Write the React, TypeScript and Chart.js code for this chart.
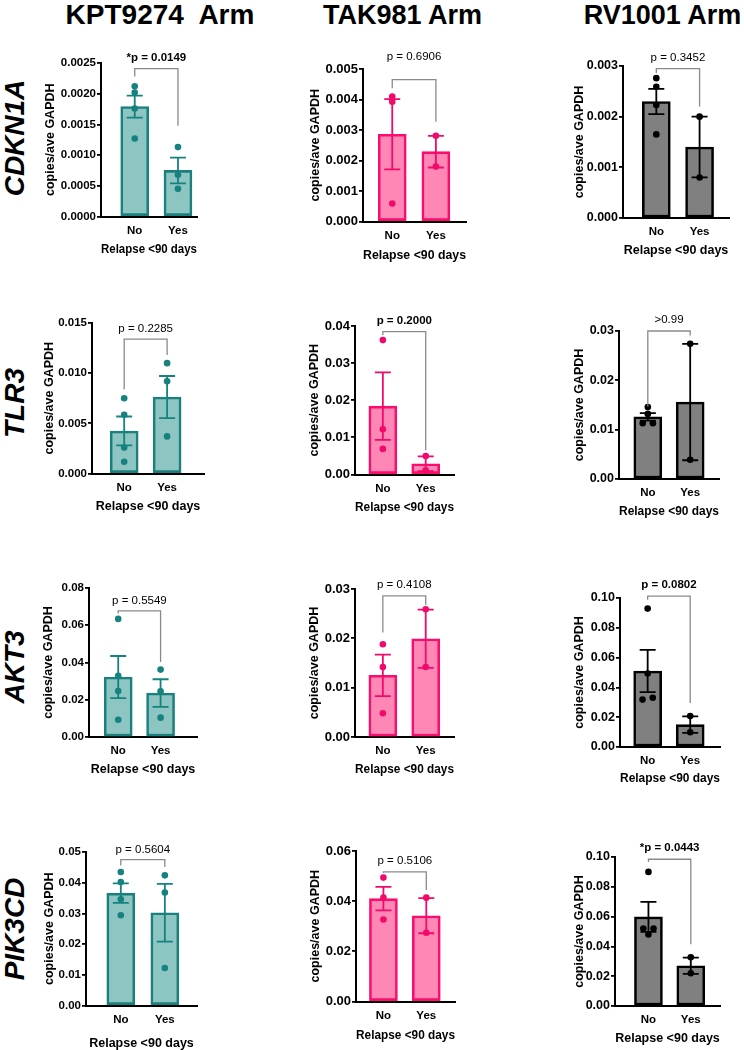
import React, { useEffect, useRef } from 'react';
import { Chart, registerables } from 'chart.js';

Chart.register(...registerables);

const FONT = "'Liberation Sans', Arial, Helvetica, sans-serif";

// ---------- data ----------
const GENES = ['CDKN1A', 'TLR3', 'AKT3', 'PIK3CD'];
const ARMS = ['KPT9274  Arm', 'TAK981 Arm', 'RV1001 Arm'];
const GROUPS = ['No', 'Yes'];
const Y_TITLE = 'copies/ave GAPDH';
const X_TITLE = 'Relapse <90 days';

const Y_MAX = [[0.0025, 0.005, 0.003], [0.015, 0.04, 0.03], [0.08, 0.03, 0.1], [0.05, 0.06, 0.1]];
const Y_STEP = [[0.0005, 0.001, 0.001], [0.005, 0.01, 0.01], [0.02, 0.01, 0.02], [0.01, 0.02, 0.02]];
const Y_DEC = [[4, 3, 3], [3, 2, 2], [2, 2, 2], [2, 2, 2]];

const MEAN_NO = [[0.00179, 0.00286, 0.0023], [0.00424, 0.0184, 0.0126], [0.0322, 0.0125, 0.051], [0.0366, 0.041, 0.0598]];
const MEAN_YES = [[0.00075, 0.00229, 0.0014], [0.00762, 0.0029, 0.0156], [0.0236, 0.0199, 0.015], [0.0302, 0.0342, 0.027]];
const SEM_NO = [[0.00018, 0.00115, 0.00025], [0.00144, 0.0091, 0.00075], [0.0113, 0.0042, 0.0142], [0.0032, 0.0047, 0.0101]];
const SEM_YES = [[0.00021, 0.00052, 0.0006], [0.0021, 0.002, 0.0118], [0.0074, 0.0059, 0.0055], [0.0094, 0.007, 0.0055]];

const PTS_NO = [
  [[0.00212, 0.00202, 0.00176, 0.00127], [0.0041, 0.00393, 0.00059], [0.00276, 0.00259, 0.00223, 0.00165]],
  [[0.0075, 0.00586, 0.00258, 0.00117], [0.0362, 0.0122, 0.0069], [0.0146, 0.0132, 0.0113, 0.0113]],
  [[0.0634, 0.0328, 0.0247, 0.0093], [0.0188, 0.0142, 0.0048], [0.0929, 0.0493, 0.0331, 0.0318]],
  [[0.0435, 0.0402, 0.0346, 0.0294], [0.0494, 0.0414, 0.0327], [0.09, 0.052, 0.052, 0.048]],
];
const JIT_NO = [
  [[0, 0, 0, 0], [0, 0, 0], [0, 0, 0, 0]],
  [[0, 0, 0, 0], [0, 0, 0], [0, 0, -0.12, 0.12]],
  [[0, 0, 0, 0], [0, 0, 0], [0, 0, 0.12, -0.12]],
  [[0, 0, 0, 0], [0, 0, 0], [0, -0.12, 0.12, 0]],
];
const PTS_YES = [
  [[0.00113, 0.00068, 0.00045], [0.00281, 0.0018], [0.002, 0.0008]],
  [[0.011, 0.0092, 0.0037], [0.005, 0.0011], [0.0274, 0.0039]],
  [[0.0362, 0.0245, 0.0104], [0.0259, 0.0142], [0.0208, 0.0099]],
  [[0.0424, 0.0368, 0.0122], [0.0414, 0.0274], [0.0327, 0.022]],
];

const P_TEXT = [
  ['*p = 0.0149', 'p = 0.6906', 'p = 0.3452'],
  ['p = 0.2285', 'p = 0.2000', '>0.99'],
  ['p = 0.5549', 'p = 0.4108', 'p = 0.0802'],
  ['p = 0.5604', 'p = 0.5106', '*p = 0.0443'],
];
const P_BOLD = [[true, false, false], [false, true, false], [false, false, true], [false, false, true]];
const BRACKET_TOP = [[0.00241, 0.00465, 0.00295], [0.0134, 0.0385, 0.03], [0.0677, 0.0286, 0.1013], [0.0475, 0.0517, 0.0985]];
const LEG_NO = [[0.00228, 0.00437, 0.00286], [0.00837, 0.0376, 0.0147], [0.0663, 0.0212, 0.0989], [0.0456, 0.0512, 0.0966]];
const LEG_YES = [[0.00148, 0.00327, 0.0022], [0.0118, 0.0065, 0.0291], [0.0403, 0.0268, 0.0295], [0.0451, 0.0445, 0.0415]];

// ---------- styles / layout ----------
const COLORS = [
  { fill: '#8cc5c1', border: '#1b807d', point: '#16827f' },
  { fill: '#ff87b6', border: '#fb0c6d', point: '#f20a6b' },
  { fill: '#808080', border: '#000000', point: '#000000' },
];
const TICK_SIZE = [11.5, 13, 12.5];
// [yTitleX, axisX, endX, topY, zeroY, xMin, xMax, xTitleGap, labelGap]
const LAYOUT = [
  [[50, 101, 197, 63, 216, -0.78, 1.44, 33, 11], [315, 363, 466, 69, 221, -0.67, 1.69, 34, 23], [579, 623, 729, 66, 218, -0.77, 1.68, 32.5, 11]],
  [[49, 92, 204, 323, 473, -0.75, 1.86, 33, 10], [314, 355, 454, 326, 474, -0.65, 1.66, 33, 11], [579, 619, 719, 331, 479, -0.68, 1.68, 32.5, 11]],
  [[48, 89, 197, 588, 737, -0.69, 1.86, 32.5, 10], [314, 355, 454, 589, 737, -0.65, 1.66, 32.5, 11.5], [579, 620, 720, 598, 747, -0.65, 1.7, 31.5, 11.5]],
  [[49, 86, 197, 852, 1005, -0.79, 1.73, 38, 10], [315, 356, 455, 851, 1001, -0.64, 1.67, 34, 11], [579, 615, 720, 857, 1006, -0.79, 1.69, 32.5, 11.5]],
];
const HEADER_X = [160, 402.5, 662.5];
const HEADER_SIZE = [28, 27, 27];
const ROW_LABEL_Y = [138, 402.5, 667, 929];
const PAD_TOP = 40;
const PAD_RIGHT = 12;

function makeOverlay(r: number, c: number) {
  const col = COLORS[c];
  const labelGap = LAYOUT[r][c][8];
  return {
    id: 'overlay' + r + c,
    beforeDatasetDraw(chart: any, args: any) {
      if (args.index !== 0) return;
      const ctx = chart.ctx;
      const xs = chart.scales.x;
      const ys = chart.scales.y;
      ctx.save();
      ctx.strokeStyle = col.point;
      ctx.lineWidth = 1.8;
      const groups: [number[][], number[][]][] = [[MEAN_NO, SEM_NO], [MEAN_YES, SEM_YES]];
      groups.forEach(([m, s], i) => {
        const x = xs.getPixelForValue(i);
        const t = ys.getPixelForValue(m[r][c] + s[r][c]);
        const b = ys.getPixelForValue(m[r][c] - s[r][c]);
        ctx.beginPath();
        ctx.moveTo(x, t);
        ctx.lineTo(x, b);
        ctx.moveTo(x - 8, t);
        ctx.lineTo(x + 8, t);
        ctx.moveTo(x - 8, b);
        ctx.lineTo(x + 8, b);
        ctx.stroke();
      });
      ctx.restore();
    },
    afterDraw(chart: any) {
      const ctx = chart.ctx;
      const xs = chart.scales.x;
      const ys = chart.scales.y;
      const xL = xs.getPixelForValue(0);
      const xR = xs.getPixelForValue(1);
      const yT = ys.getPixelForValue(BRACKET_TOP[r][c]);
      const yL = ys.getPixelForValue(LEG_NO[r][c]);
      const yR = ys.getPixelForValue(LEG_YES[r][c]);
      ctx.save();
      ctx.strokeStyle = '#8a8a8a';
      ctx.lineWidth = 1.3;
      ctx.beginPath();
      ctx.moveTo(xL, yL);
      ctx.lineTo(xL, yT);
      ctx.lineTo(xR, yT);
      ctx.lineTo(xR, yR);
      ctx.stroke();
      ctx.fillStyle = '#000';
      ctx.font = (P_BOLD[r][c] ? 'bold ' : '') + '11.5px ' + FONT;
      ctx.textAlign = 'center';
      ctx.textBaseline = 'middle';
      ctx.fillText(P_TEXT[r][c], (xL + xR) / 2, yT - labelGap);
      ctx.restore();
    },
  };
}

function Panel({ r, c }: { r: number; c: number }) {
  const ref = useRef<HTMLCanvasElement>(null);
  const [yTitleX, axisX, endX, topY, zeroY, xMin, xMax, xTitleGap] = LAYOUT[r][c];
  const left = Math.round(yTitleX - 7.5);
  const top = topY - PAD_TOP;
  const yW = axisX - left;
  const xH = xTitleGap + 7.5;
  const width = endX - left + PAD_RIGHT;
  const height = Math.round(zeroY - top + xH);

  useEffect(() => {
    const col = COLORS[c];
    const pts: { x: number; y: number }[] = [];
    PTS_NO[r][c].forEach((v, i) => pts.push({ x: 0 + JIT_NO[r][c][i], y: v }));
    PTS_YES[r][c].forEach((v) => pts.push({ x: 1, y: v }));
    const yMax = Y_MAX[r][c];
    const step = Y_STEP[r][c];
    const dec = Y_DEC[r][c];
    const chart = new Chart(ref.current as HTMLCanvasElement, {
      type: 'bar',
      data: {
        datasets: [
          {
            type: 'scatter',
            data: pts,
            backgroundColor: col.point,
            borderColor: col.point,
            pointRadius: 3.3,
            pointBorderWidth: 0,
            order: 0,
            clip: false,
          } as any,
          {
            type: 'bar',
            data: [
              { x: 0, y: MEAN_NO[r][c] },
              { x: 1, y: MEAN_YES[r][c] },
            ],
            backgroundColor: col.fill,
            borderColor: col.border,
            borderWidth: 2.6,
            borderSkipped: false,
            barThickness: 28,
            order: 1,
          } as any,
        ],
      },
      options: {
        responsive: false,
        maintainAspectRatio: false,
        animation: false,
        devicePixelRatio: 1,
        events: [],
        layout: { padding: { top: PAD_TOP, right: PAD_RIGHT, left: 0, bottom: 0 } },
        plugins: { legend: { display: false }, tooltip: { enabled: false } },
        scales: {
          x: {
            type: 'linear',
            min: xMin,
            max: xMax,
            offset: false,
            z: 1,
            grid: { display: false, drawTicks: false, offset: false },
            border: { display: true, color: '#000', width: 2 },
            afterBuildTicks: (s: any) => {
              s.ticks = GROUPS.map((_, i) => ({ value: i }));
            },
            afterFit: (s: any) => {
              s.height = xH;
            },
            ticks: {
              padding: 7,
              color: '#000',
              font: { family: FONT, size: 11.5, weight: 'bold' },
              callback: (v: any) => GROUPS[Math.round(Number(v))] ?? '',
            },
            title: {
              display: true,
              text: X_TITLE,
              color: '#000',
              padding: 0,
              font: { family: FONT, size: 12.5, weight: 'bold' },
            },
          },
          y: {
            type: 'linear',
            min: 0,
            max: yMax,
            grid: { display: true, drawOnChartArea: false, drawTicks: true, tickLength: 4, color: '#000', lineWidth: 1.8 },
            border: { display: true, color: '#000', width: 2 },
            afterBuildTicks: (s: any) => {
              const n = Math.round(yMax / step);
              s.ticks = Array.from({ length: n + 1 }, (_, i) => ({ value: Number((i * step).toFixed(8)) }));
            },
            afterFit: (s: any) => {
              s.width = yW;
            },
            ticks: {
              padding: 1,
              color: '#000',
              font: { family: FONT, size: TICK_SIZE[c], weight: 'bold' },
              callback: (v: any) => Number(v).toFixed(dec),
            },
            title: {
              display: true,
              text: Y_TITLE,
              color: '#000',
              padding: 0,
              font: { family: FONT, size: 12.5, weight: 'bold' },
            },
          },
        },
      } as any,
      plugins: [makeOverlay(r, c)],
    });
    return () => chart.destroy();
  }, []);

  return (
    <canvas
      ref={ref}
      width={width}
      height={height}
      style={{ position: 'absolute', left, top, width, height, display: 'block' }}
    />
  );
}

export default function App() {
  return (
    <div style={{ position: 'absolute', left: 0, top: 0, width: 744, height: 1050, background: '#fff', overflow: 'hidden' }}>
      {ARMS.map((a, c) => (
        <div
          key={'h' + c}
          style={{
            position: 'absolute',
            left: HEADER_X[c],
            top: 15,
            transform: 'translate(-50%, -50%)',
            whiteSpace: 'pre',
            fontFamily: FONT,
            fontWeight: 'bold',
            fontSize: HEADER_SIZE[c],
            lineHeight: 1,
            color: '#000',
          }}
        >
          {a}
        </div>
      ))}
      {GENES.map((g, r) => (
        <div
          key={'g' + r}
          style={{
            position: 'absolute',
            left: 15,
            top: ROW_LABEL_Y[r],
            transform: 'translate(-50%, -50%) rotate(-90deg)',
            whiteSpace: 'nowrap',
            fontFamily: FONT,
            fontWeight: 'bold',
            fontStyle: 'italic',
            fontSize: 28,
            lineHeight: 1,
            color: '#000',
          }}
        >
          {g}
        </div>
      ))}
      {GENES.map((_, r) => ARMS.map((__, c) => <Panel key={r + '-' + c} r={r} c={c} />))}
    </div>
  );
}
